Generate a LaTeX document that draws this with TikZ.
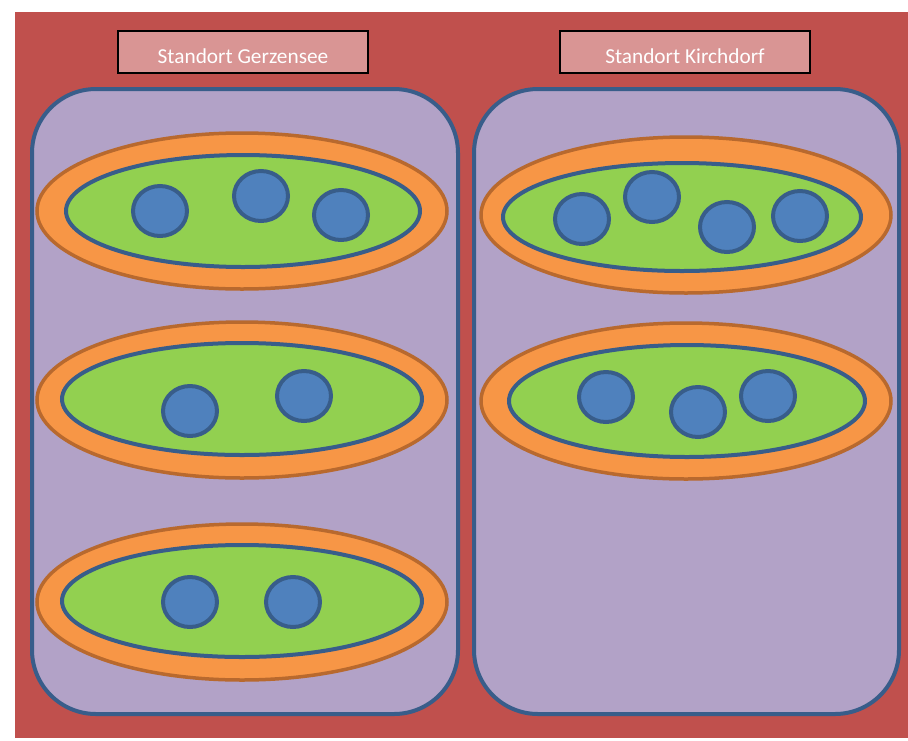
\documentclass[tikz,border=0pt]{standalone}
\usepackage{fontspec}
\setmainfont{Carlito}
\usetikzlibrary{shapes.geometric}

\definecolor{bgred}{HTML}{C0504D}
\definecolor{titlepink}{HTML}{D99594}
\definecolor{lavender}{HTML}{B2A2C7}
\definecolor{ringorange}{HTML}{F79646}
\definecolor{ringedge}{HTML}{B8692E}
\definecolor{leafgreen}{HTML}{92D050}
\definecolor{dotblue}{HTML}{4F81BD}
\definecolor{edgeblue}{HTML}{385D8A}

\tikzset{
  titlebox/.style={draw=black, line width=1.6pt, fill=titlepink,
    minimum width=250pt, minimum height=42pt, inner sep=0pt},
  titletext/.style={text=white, font=\fontsize{21.3}{25}\selectfont, inner sep=0pt},
  sitebox/.style={draw=edgeblue, line width=4pt, fill=lavender,
    rounded corners=64pt},
  outerring/.style={ellipse, draw=ringedge, line width=3.5pt, fill=ringorange,
    minimum width=410pt, minimum height=156pt, inner sep=0pt},
  innerleaf/.style={ellipse, draw=edgeblue, line width=4pt, fill=leafgreen,
    minimum height=112pt, inner sep=0pt},
  dot/.style={ellipse, draw=edgeblue, line width=4pt, fill=dotblue,
    minimum width=54pt, minimum height=50pt, inner sep=0pt},
}

\begin{document}
\begin{tikzpicture}[x=1pt, y=-1pt]
  \useasboundingbox (0,0) rectangle (908,740);
  \fill[white] (0,0) rectangle (908,740);
  \fill[bgred] (15,12) rectangle (908,738);

  % site headings
  \node[titlebox] (tleft) at (243,52) {};
  \node[titletext] (tleftlabel) at (243,56) {Standort Gerzensee};
  \node[titlebox] (tright) at (685,52) {};
  \node[titletext] (trightlabel) at (685,56) {Standort Kirchdorf};

  % site containers
  \draw[sitebox] (32,89) rectangle (458,714);
  \draw[sitebox] (474,89) rectangle (899,714);

  % Gerzensee groups
  \node[outerring] (g1) at (242,211) {};
  \node[innerleaf, minimum width=354pt] (g1in) at (243,211) {};
  \node[dot] (g1a) at (160,211) {};
  \node[dot] (g1b) at (261,196) {};
  \node[dot] (g1c) at (341,215) {};

  \node[outerring] (g2) at (242,400) {};
  \node[innerleaf, minimum width=360pt] (g2in) at (242,399) {};
  \node[dot] (g2a) at (190,411) {};
  \node[dot] (g2b) at (304,396) {};

  \node[outerring] (g3) at (242,602) {};
  \node[innerleaf, minimum width=360pt] (g3in) at (242,601) {};
  \node[dot] (g3a) at (190,602) {};
  \node[dot] (g3b) at (293,602) {};

  % Kirchdorf groups
  \node[outerring] (k1) at (686,215) {};
  \node[innerleaf, minimum width=358pt, minimum height=108pt] (k1in) at (682,217) {};
  \node[dot] (k1a) at (582,219) {};
  \node[dot] (k1b) at (652,197) {};
  \node[dot] (k1c) at (727,227) {};
  \node[dot] (k1d) at (800,216) {};

  \node[outerring] (k2) at (686,401) {};
  \node[innerleaf, minimum width=356pt] (k2in) at (687,401) {};
  \node[dot] (k2a) at (606,397) {};
  \node[dot] (k2b) at (698,412) {};
  \node[dot] (k2c) at (768,396) {};
\end{tikzpicture}
\end{document}
